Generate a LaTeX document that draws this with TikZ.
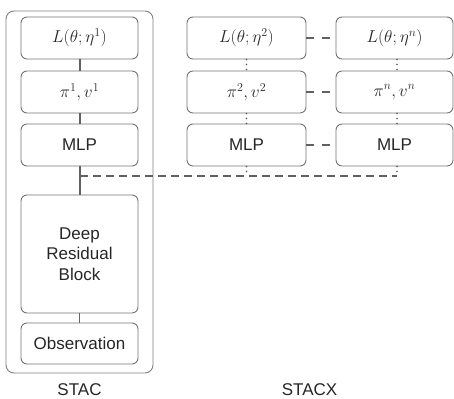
\documentclass[tikz,border=0pt]{standalone}
\usepackage{fontspec}
\setmainfont{Liberation Sans}
\begin{document}
\begin{tikzpicture}[x=1pt,y=-1pt,
  blk/.style={draw=black!55,line width=0.9pt,rounded corners=6pt,minimum width=117pt,minimum height=42pt,inner sep=0pt,align=center,font=\fontsize{17}{20.5}\selectfont,text=black!85},
  mblk/.style={blk,font=\fontsize{18.5}{22}\selectfont},
  outer/.style={draw=black!50,line width=0.9pt,rounded corners=8pt},
  solidlink/.style={draw=black!62,line width=2pt},
  thinlink/.style={draw=black!60,line width=1.2pt},
  dashlink/.style={draw=black!62,line width=2pt,dash pattern=on 8pt off 5pt},
  shortdash/.style={draw=black!62,line width=2pt,dash pattern=on 8pt off 8pt},
  dotlink/.style={draw=black!65,line width=1.7pt,line cap=round,dash pattern=on 0pt off 5pt},
  lbl/.style={font=\fontsize{17}{20}\selectfont,text=black!85}]
\useasboundingbox (0,0) rectangle (454,398);
% outer frame
\draw[outer] (6,11) rectangle (153,373);
% column 1
\node[mblk] (L1) at (79.5,38) {$L(\theta;\eta^1)$};
\node[mblk] (P1) at (79.5,92) {$\pi^1,v^1$};
\node[blk] (M1) at (79.5,145) {MLP};
\node[blk,minimum height=118pt] (D) at (79.5,254) {Deep\\Residual\\Block};
\node[blk,minimum height=41pt] (O) at (79.5,343.5) {Observation};
% column 2
\node[mblk,minimum width=119pt] (L2) at (246.5,38) {$L(\theta;\eta^2)$};
\node[mblk,minimum width=119pt] (P2) at (246.5,92) {$\pi^2,v^2$};
\node[blk,minimum width=119pt] (M2) at (246.5,145) {MLP};
% column n
\node[mblk] (Ln) at (394.5,38) {$L(\theta;\eta^n)$};
\node[mblk] (Pn) at (394.5,92) {$\pi^n,v^n$};
\node[blk] (Mn) at (394.5,145) {MLP};
% labels
\node[lbl] (stac) at (79.5,390) {STAC};
\node[lbl] (stacx) at (309.5,390) {STACX};
% coordinates
\coordinate (J) at (80,176);
\coordinate (E) at (397,176);
% column 1 links
\draw[solidlink] (L1.south) -- (P1.north);
\draw[solidlink] (P1.south) -- (M1.north);
\draw[solidlink] (M1.south) -- (D.north);
\draw[thinlink] (D.south) -- (O.north);
% shared dashed link
\draw[dashlink] (J) -- (E);
% column 2 dotted links
\draw[dotlink] (L2.south) -- (P2.north);
\draw[dotlink] (P2.south) -- (M2.north);
\draw[dotlink] (M2.south) -- (M2.south |- J);
% column n dotted links
\draw[dotlink] ([xshift=2.5pt]Ln.south) -- ([xshift=2.5pt]Pn.north);
\draw[dotlink] ([xshift=2.5pt]Pn.south) -- ([xshift=2.5pt]Mn.north);
\draw[dotlink] ([xshift=2.5pt]Mn.south) -- (E);
% horizontal dashed between columns
\draw[shortdash] (L2.east) -- (Ln.west);
\draw[shortdash] (P2.east) -- (Pn.west);
\draw[shortdash] (M2.east) -- (Mn.west);
\end{tikzpicture}
\end{document}
